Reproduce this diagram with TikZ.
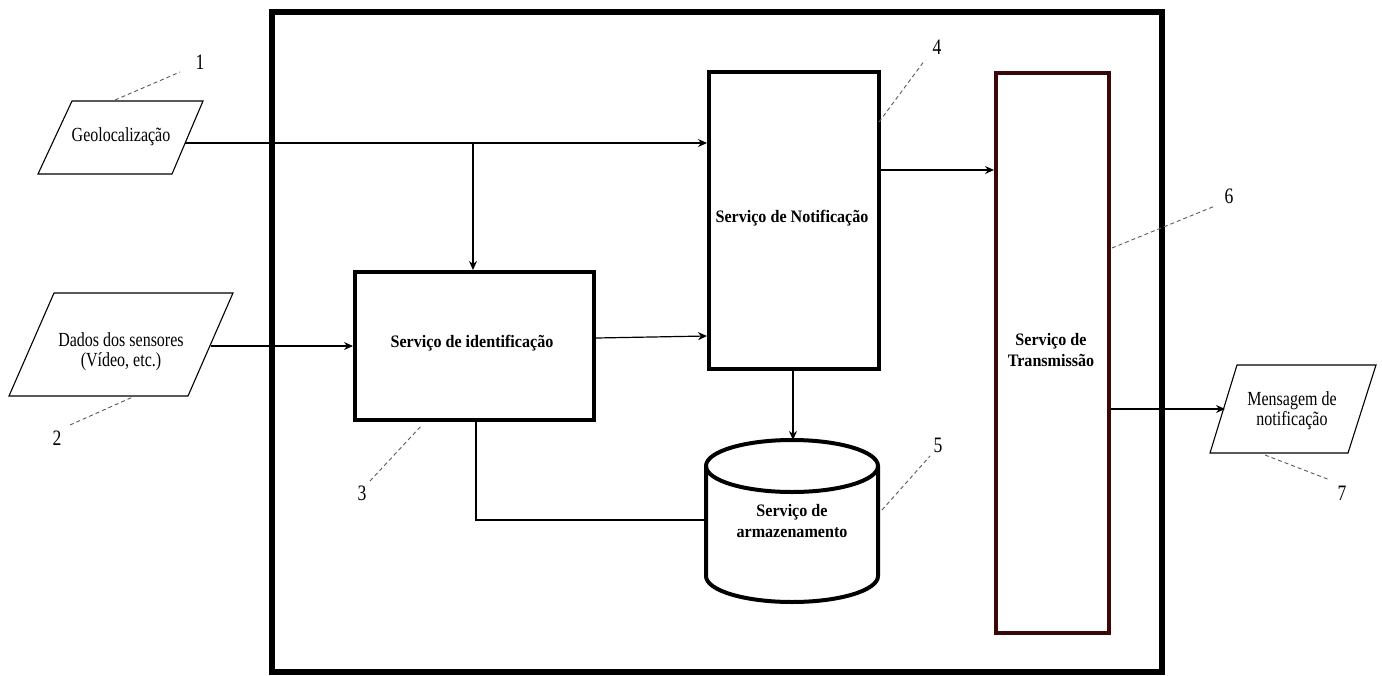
\documentclass[tikz,border=0pt]{standalone}
\usepackage{fontspec}
\setmainfont{Liberation Serif}
\newfontfamily\regfont[FakeStretch=0.8]{Liberation Serif}
\newfontfamily\boldfont[FakeStretch=0.92]{Liberation Serif}
\usetikzlibrary{arrows.meta}
\definecolor{maroon}{HTML}{3A0808}
\tikzset{
  conn/.style={line width=1.2pt,-{Stealth[length=9pt,width=8pt]}},
  plain/.style={line width=1.2pt},
  thickbox/.style={draw,line width=4pt},
  io/.style={draw,line width=1.1pt},
  lead/.style={line width=0.9pt,gray!70!black,dash pattern=on 4pt off 3pt},
  lbl/.style={font=\regfont\fontsize{20}{20}\selectfont,align=center,inner sep=0pt},
  blbl/.style={font=\boldfont\bfseries\fontsize{17.5}{21}\selectfont,align=center,inner sep=0pt},
  num/.style={font=\regfont\fontsize{22}{22}\selectfont,inner sep=0pt}
}
\begin{document}
\begin{tikzpicture}[x=1pt,y=-1pt]
\useasboundingbox (0,0) rectangle (1382,675);
% outer frame
\draw[line width=6pt] (272,12) rectangle (1162,672);
% inputs
\draw[io] (72,101) -- (203,101) -- (172,174) -- (38,174) -- cycle;
\node[lbl] (geo) at (121,137) {Geolocalização};
\coordinate (geoR) at (185,143);
\draw[io] (54,293) -- (233,293) -- (188,396) -- (9,396) -- cycle;
\node[lbl] (dados) at (121,352) {Dados dos sensores\\(Vídeo, etc.)};
\coordinate (dadosR) at (211,346);
\draw[io] (1237,365) -- (1376,365) -- (1348,453) -- (1210,453) -- cycle;
\node[lbl] (msg) at (1292,411) {Mensagem de\\notificação};
\coordinate (msgL) at (1225,409);
% boxes
\node[thickbox,minimum width=239pt,minimum height=148pt,anchor=north west] (ident) at (353,270) {};
\node[blbl] at (472,343) {Serviço de identificação};
\node[thickbox,minimum width=170pt,minimum height=297pt,anchor=north west] (notif) at (707,70) {};
\node[blbl] at (792,218) {Serviço de Notificação};
\node[draw=maroon,line width=4pt,minimum width=113pt,minimum height=560pt,anchor=north west] (trans) at (994,71) {};
\node[blbl] at (1051,350) {Serviço de\\Transmissão};
% cylinder
\draw[line width=4pt,fill=white] (706,466) -- (706,576) arc[start angle=180,end angle=360,x radius=86pt,y radius=26pt] -- (878,466);
\draw[line width=4pt] (792,466) ellipse[x radius=86pt,y radius=26pt];
\node[blbl] (store) at (792,521) {Serviço de\\armazenamento};
\coordinate (storeTop) at (793,440);
\coordinate (storeL) at (706,520);
% connectors
\coordinate (branch) at (473,143);
\draw[conn] (geoR) -- (notif.west |- geoR);
\draw[conn] (branch) -- (ident.north -| branch);
\draw[conn] (dadosR) -- (ident.west |- dadosR);
\draw[conn] (ident.east |- 0,338) -- (notif.west |- 0,336);
\draw[conn] (notif.south -| storeTop) -- (storeTop);
\draw[plain] (ident.south -| 476,0) -- (476,520) -- (storeL);
\draw[conn] (notif.east |- 0,170) -- (trans.west |- 0,170);
\draw[conn] (trans.east |- msgL) -- (msgL);
% leader lines and numbers
\node[num] (n1) at (200,62) {1};
\draw[lead] (115,100) -- (180,72);
\node[num] (n2) at (57,438) {2};
\draw[lead] (70,425) -- (135,396);
\node[num] (n3) at (362,493) {3};
\draw[lead] (370,481) -- (422,425);
\node[num] (n4) at (937,47) {4};
\draw[lead] (879,122) -- (925,60);
\node[num] (n5) at (938,445) {5};
\draw[lead] (882,510) -- (930,456);
\node[num] (n6) at (1229,196) {6};
\draw[lead] (1112,248) -- (1215,206);
\node[num] (n7) at (1342,493) {7};
\draw[lead] (1265,455) -- (1330,480);
\end{tikzpicture}
\end{document}
